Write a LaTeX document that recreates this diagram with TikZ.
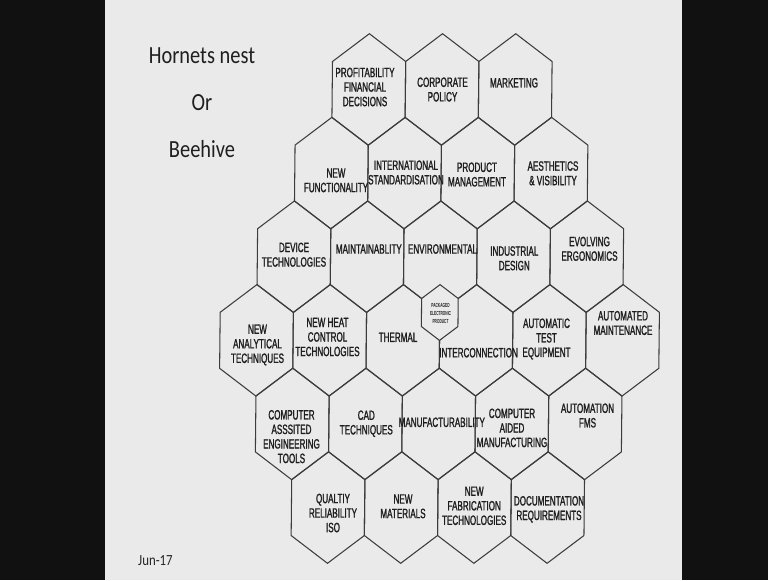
\documentclass[tikz,border=0pt]{standalone}
\usepackage{fontspec}
\setmainfont{Liberation Sans}
\newfontfamily\hexfont[FakeStretch=0.6,FakeBold=1.3]{Liberation Sans}
\newfontfamily\tinyhexfont[FakeStretch=0.55]{Liberation Sans Bold}
\newfontfamily\titlefont[FakeStretch=0.83]{Carlito}
\definecolor{slidebg}{RGB}{234,234,234}
\definecolor{barblack}{RGB}{17,17,17}
\definecolor{hexline}{RGB}{60,60,60}
\definecolor{hextext}{RGB}{30,30,30}
\newcommand\hexcell[2]{% column index, row index
  \draw[hexedge] ({256.5+36.6*#1},{89.5+83.6*(#2-1)}) ++(0,-55.8) -- ++(36.6,27.8) -- ++(0,56)
    -- ++(-36.6,27.8) -- ++(-36.6,-27.8) -- ++(0,-56) -- cycle;}
\begin{document}
\begin{tikzpicture}[x=0.03cm,y=-0.03cm,
  hexedge/.style={draw=hexline,line width=0.9pt,line join=miter},
  hexlabel/.style={font=\hexfont\fontsize{11.5}{12.4}\selectfont,align=center,inner sep=0pt,text=hextext},
  tinylabel/.style={font=\tinyhexfont\fontsize{5}{7}\selectfont,align=center,inner sep=0pt,text=hextext},
  titletext/.style={font=\titlefont\fontsize{21}{25}\selectfont,inner sep=0pt,text=black!88,anchor=base},
  datetext/.style={font=\titlefont\fontsize{13.2}{15}\selectfont,inner sep=0pt,text=black!85,anchor=base west}]
\useasboundingbox (0,0) rectangle (768,580);
\fill[barblack] (0,0) rectangle (768,580);
\fill[slidebg] (105,0) rectangle (682,580);
% hexagon grid (slightly slanted like the slide)
\begin{scope}[xshift=0.102cm,xslant=0.01]
  \foreach \j in {3,5,7} {\hexcell{\j}{1}}
  \foreach \j in {2,4,6,8} {\hexcell{\j}{2}}
  \foreach \j in {1,3,5,7,9} {\hexcell{\j}{3}}
  \foreach \j in {0,2,4,6,8,10} {\hexcell{\j}{4}}
  \foreach \j in {1,3,5,7,9} {\hexcell{\j}{5}}
  \foreach \j in {2,4,6,8} {\hexcell{\j}{6}}
  % small central hexagon
  \filldraw[hexedge,fill=slidebg] (439.5,312.5) ++(0,-27.9) -- ++(18.3,13.9) -- ++(0,28)
    -- ++(-18.3,13.9) -- ++(-18.3,-13.9) -- ++(0,-28) -- cycle;
\end{scope}
% title and date
\node[titletext] (title1) at (202,63) {Hornets nest};
\node[titletext] (title2) at (202,110) {Or};
\node[titletext] (title3) at (202,157) {Beehive};
\node[datetext] (date) at (138,565) {Jun-17};
% labels
\node[hexlabel] (profit) at (365,87) {PROFITABILITY\\FINANCIAL\\DECISIONS};
\node[hexlabel] (corporate) at (442.5,89.5) {CORPORATE\\POLICY};
\node[hexlabel] (marketing) at (514,82.8) {MARKETING};
\node[hexlabel] (newfunc) at (336,180.3) {NEW\\FUNCTIONALITY};
\node[hexlabel] (intl) at (406,172.5) {INTERNATIONAL\\STANDARDISATION};
\node[hexlabel] (product) at (477,174.5) {PRODUCT\\MANAGEMENT};
\node[hexlabel] (aesthetics) at (553,173.3) {AESTHETICS\\\& VISIBILITY};
\node[hexlabel] (device) at (294,254.7) {DEVICE\\TECHNOLOGIES};
\node[hexlabel] (maint) at (368.8,249) {MAINTAINABLITY};
\node[hexlabel] (env) at (442.5,249) {ENVIRONMENTAL};
\node[hexlabel] (industrial) at (514.3,258.3) {INDUSTRIAL\\DESIGN};
\node[hexlabel] (evolving) at (589.5,248.8) {EVOLVING\\ERGONOMICS};
\node[hexlabel] (analytical) at (257.5,345) {NEW\\ANALYTICAL\\TECHNIQUES};
\node[hexlabel] (heat) at (327.5,337) {NEW HEAT\\CONTROL\\TECHNOLOGIES};
\node[hexlabel] (thermal) at (398,337.3) {THERMAL};
\node[tinylabel] (packaged) at (440.5,313.3) {PACKAGED\\ELECTRONIC\\PRODUCT};
\node[hexlabel] (interconnection) at (478.6,352.7) {INTERCONNECTION};
\node[hexlabel] (autotest) at (546.5,339) {AUTOMATIC\\TEST\\EQUIPMENT};
\node[hexlabel] (automaint) at (623,323) {AUTOMATED\\MAINTENANCE};
\node[hexlabel] (cae) at (291.5,436.6) {COMPUTER\\ASSSITED\\ENGINEERING\\TOOLS};
\node[hexlabel] (cad) at (366.3,423.7) {CAD\\TECHNIQUES};
\node[hexlabel] (manuf) at (441.8,422.3) {MANUFACTURABILITY};
\node[hexlabel] (cam) at (512,427.9) {COMPUTER\\AIDED\\MANUFACTURING};
\node[hexlabel] (fms) at (587.5,415.5) {AUTOMATION\\FMS};
\node[hexlabel] (quality) at (333,513) {QUALTIY\\RELIABILITY\\ISO};
\node[hexlabel] (materials) at (403,506.3) {NEW\\MATERIALS};
\node[hexlabel] (fabrication) at (474.2,505.8) {NEW\\FABRICATION\\TECHNOLOGIES};
\node[hexlabel] (docs) at (549,509.3) {DOCUMENTATION\\REQUIREMENTS};
\end{tikzpicture}
\end{document}
